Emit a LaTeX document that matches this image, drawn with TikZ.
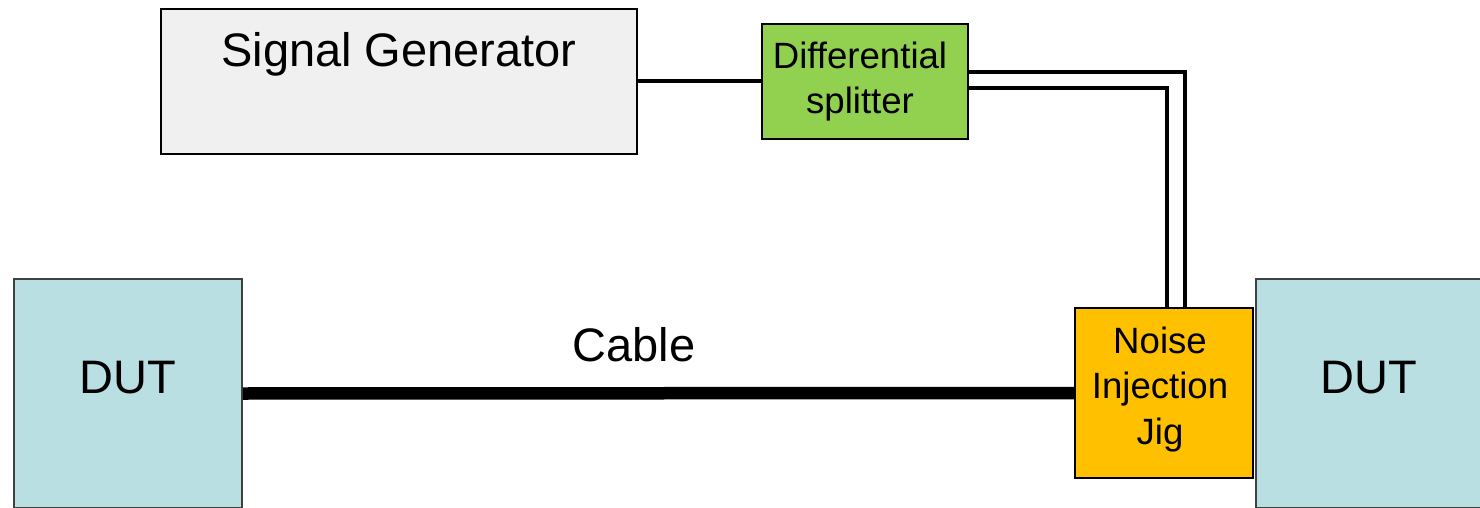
\documentclass[tikz,border=0pt]{standalone}
\usepackage{fontspec}
\setmainfont{Liberation Sans}
\definecolor{sggrey}{HTML}{F0F0F0}
\definecolor{splitgreen}{HTML}{92D050}
\definecolor{jigorange}{HTML}{FFC000}
\definecolor{dutblue}{HTML}{B9DFE3}
\definecolor{dutedge}{HTML}{404040}
\begin{document}
\begin{tikzpicture}[x=1pt,y=-1pt,
  box/.style={draw=black, line width=1.5pt, inner sep=0pt},
  dutbox/.style={draw=dutedge, line width=1.5pt, fill=dutblue, inner sep=0pt, minimum width=228pt, minimum height=229pt},
  bigtext/.style={font=\fontsize{47}{56}\selectfont, inner sep=0pt, anchor=base},
  smalltext/.style={font=\fontsize{36.6}{45.5}\selectfont, inner sep=0pt, anchor=base, align=center},
  wire/.style={draw=black, line width=4pt},
  pairwire/.style={draw=black, line width=4.5pt},
  cablewire/.style={draw=black, line width=12.5pt}]
\useasboundingbox (0,0) rectangle (1480,508);
\clip (0,0) rectangle (1480,508);
% boxes
\node[box, fill=sggrey, minimum width=476pt, minimum height=145pt] (sg) at (399,81.5) {};
\node[box, fill=splitgreen, minimum width=206pt, minimum height=115pt] (split) at (865,81.5) {};
\node[box, fill=jigorange, minimum width=178pt, minimum height=170pt] (jig) at (1164,393) {};
\node[dutbox] (dutl) at (128,393.5) {};
\node[dutbox] (dutr) at (1370,393.5) {};
% connectors
\draw[wire] (sg.east) -- (split.west);
\draw[pairwire] ([yshift=9.5pt]split.east) -| ([xshift=21pt]jig.north);
\draw[pairwire] ([yshift=-6.5pt]split.east) -| ([xshift=3pt]jig.north);
\draw[cablewire] (dutl.east) -- (jig.west);
% texts
\node[smalltext] (splitt) at (860,114) {Differential\\splitter};
\node[bigtext] (sgt) at (399,67) {Signal Generator};
\node[smalltext] (jigt) at (1160,444) {Noise\\Injection\\Jig};
\node[bigtext] (dutlt) at (128,393) {DUT};
\node[bigtext] (dutrt) at (1369,393) {DUT};
\node[bigtext] (cablet) at (634,361) {Cable};
\end{tikzpicture}
\end{document}
